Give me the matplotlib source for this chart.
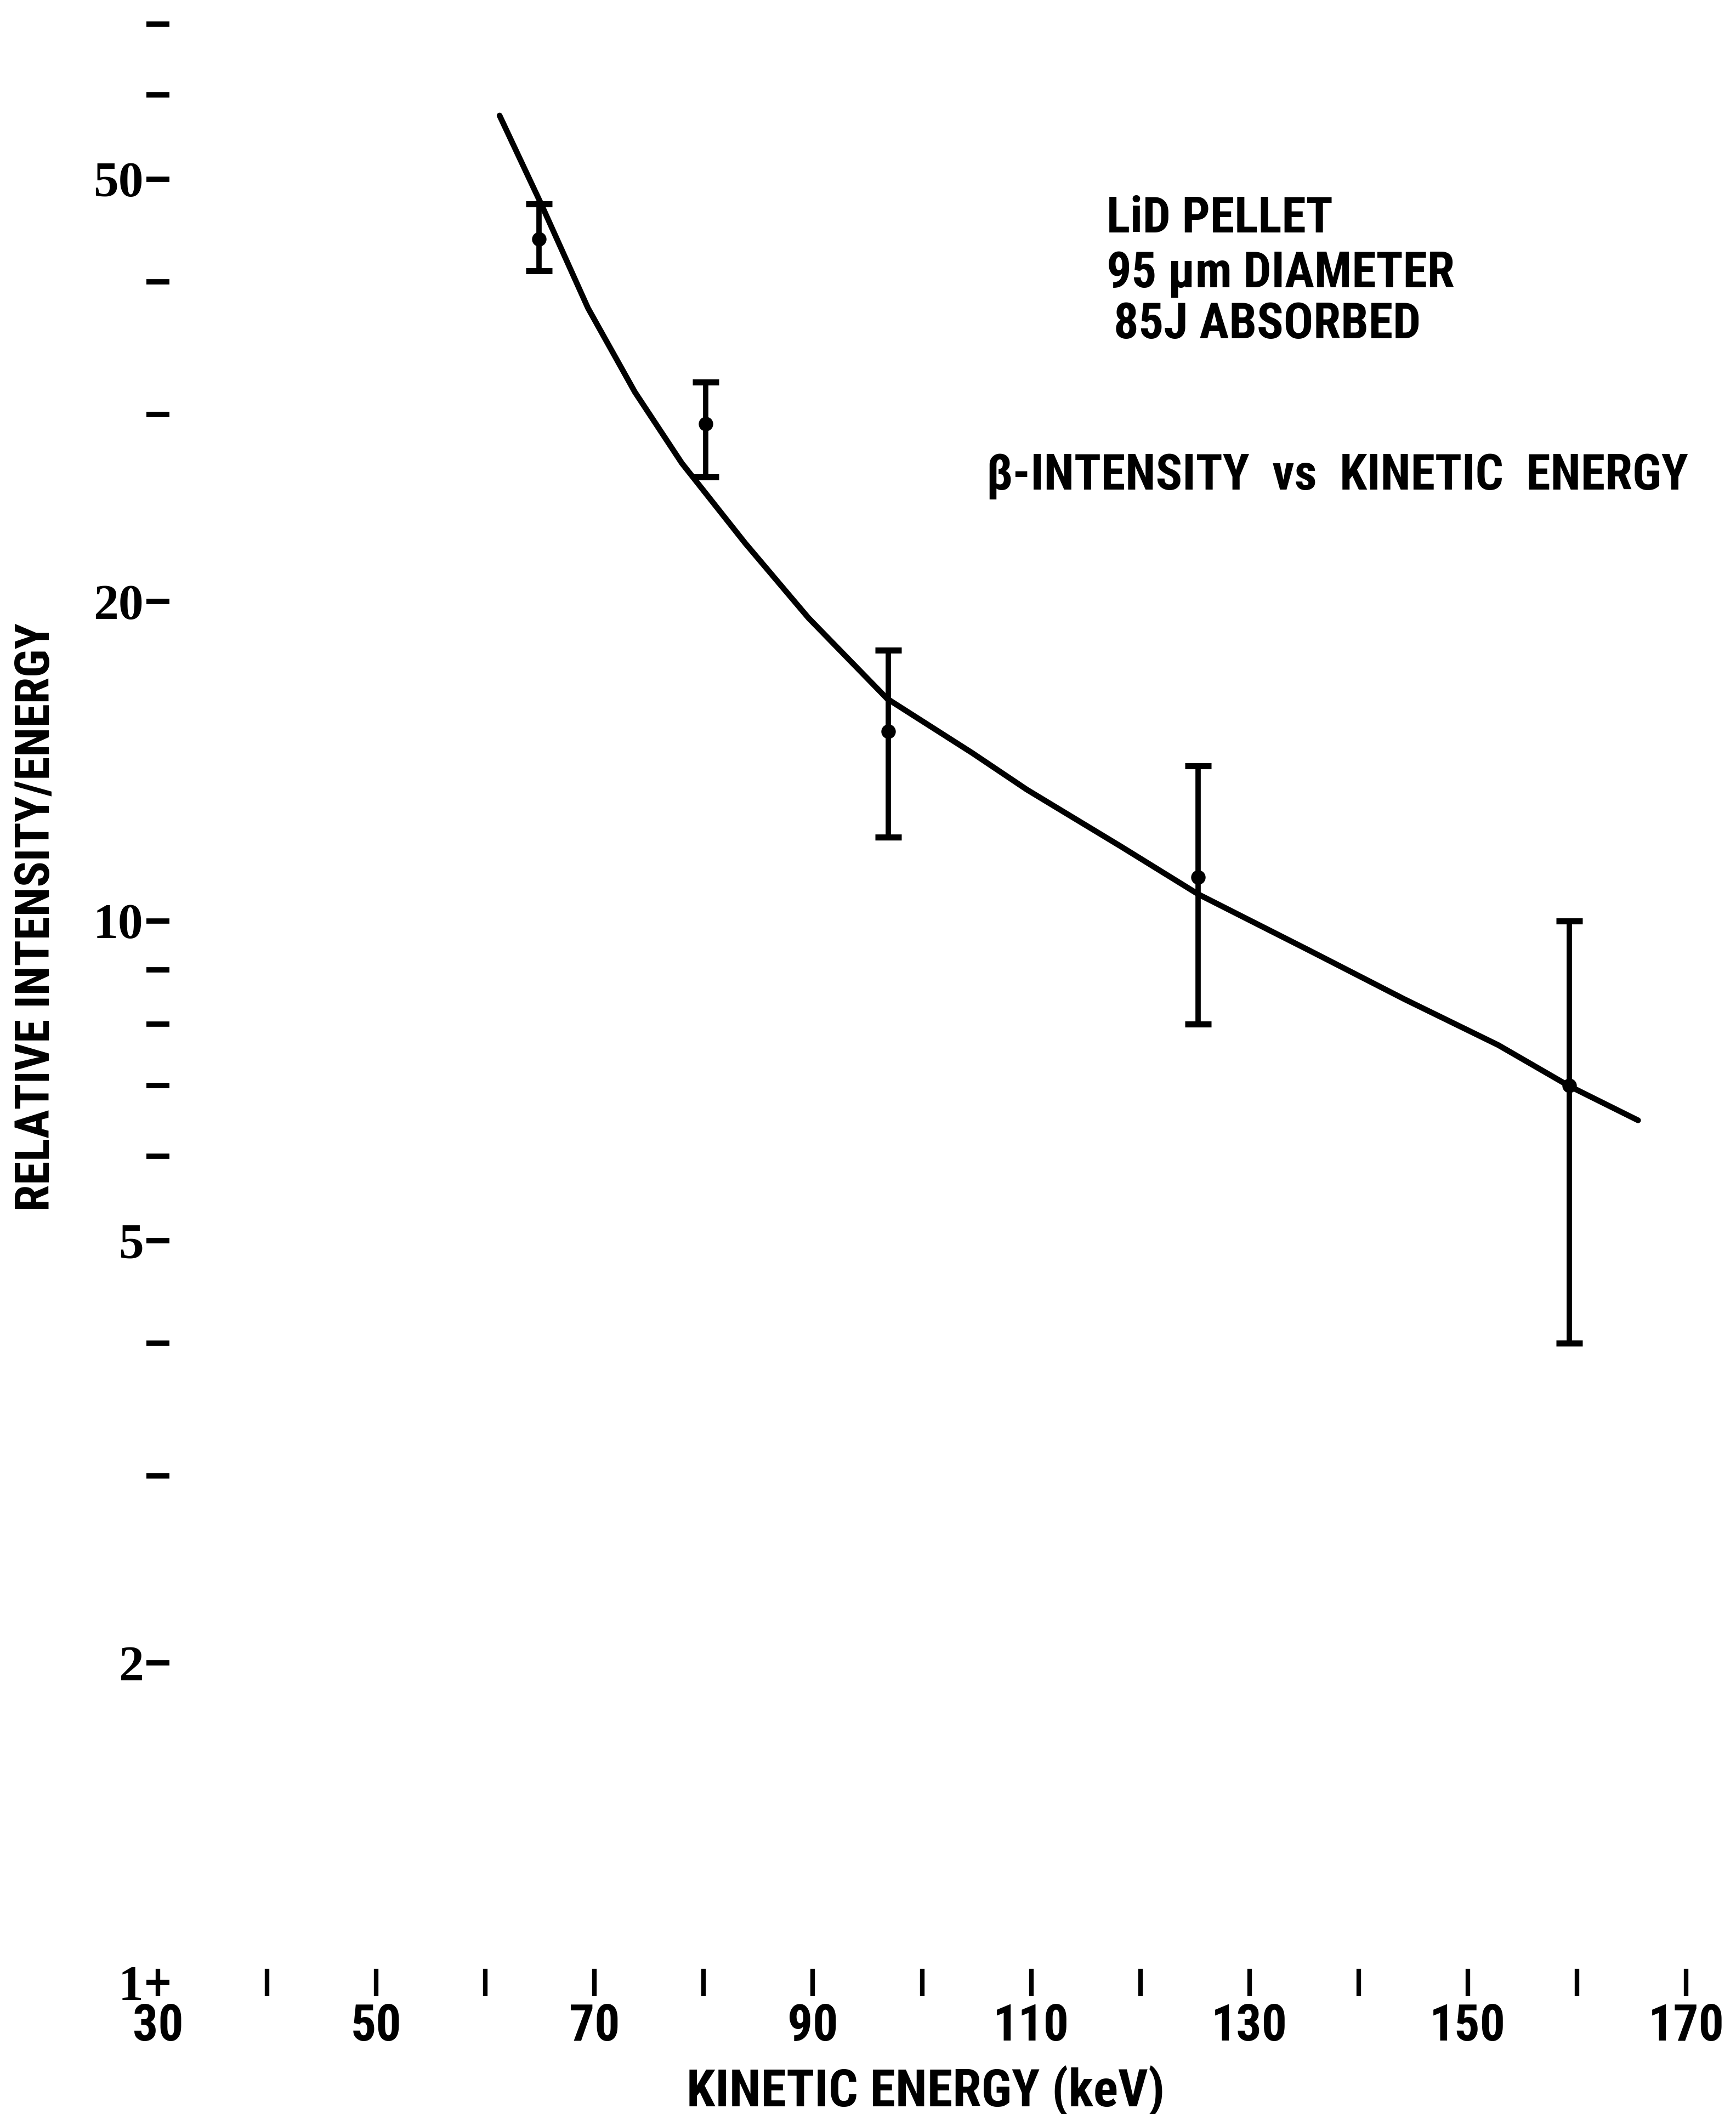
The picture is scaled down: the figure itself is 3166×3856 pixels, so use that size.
import matplotlib
matplotlib.use("Agg")
from matplotlib import pyplot as plt
from matplotlib import font_manager
from matplotlib.ticker import NullFormatter

# pick a narrow face if there is one, the scan uses a condensed typewriter font
names = {f.name for f in font_manager.fontManager.ttflist}
NARROW = next((n for n in ['Liberation Sans Narrow', 'DejaVu Sans Condensed', 'Roboto Condensed']
               if n in names), 'DejaVu Sans')
SERIF = 'Liberation Serif' if 'Liberation Serif' in names else 'DejaVu Serif'

# measured points with error bars (keV, relative intensity/energy)
energy = [64.9, 80.2, 96.9, 125.3, 159.3]
intensity = [43.9, 29.4, 15.1, 11.0, 7.0]
err_low = [41.0, 26.2, 12.0, 8.0, 4.0]
err_high = [47.4, 32.2, 18.0, 14.0, 10.0]

# fitted curve
curve_energy = [61.3, 65.1, 69.4, 73.7, 78.0, 83.8, 89.6, 96.8, 104.6, 109.6, 118.2, 125.3,
                135.5, 144.2, 152.8, 159.3, 165.6]
curve_intensity = [57.4, 47.4, 37.8, 31.5, 27.0, 22.7, 19.3, 16.2, 14.4, 13.3, 11.76, 10.6,
                   9.38, 8.44, 7.64, 6.99, 6.49]

x_major = [30, 50, 70, 90, 110, 130, 150, 170]
x_minor = [40, 60, 80, 100, 120, 140, 160]
y_major = [1, 2, 5, 10, 20, 50]
y_minor = [3, 4, 6, 7, 8, 9, 30, 40, 60, 70]

W, H = 3166, 3856
DPI = 100
fig = plt.figure(figsize=(W / DPI, H / DPI), dpi=DPI)

# axes placed so x=30 sits at px 288, x=170 at px 3075, y=1 at px 3616 from top
ax = fig.add_axes([288 / W, 1 - 3616 / H, (3075 - 288) / W, 3616 / H])
ax.set_yscale('log')
ax.set_xlim(30, 170)
ax.set_ylim(1, 10 ** (3616 / 1936))
for s in ax.spines.values():
    s.set_visible(False)
ax.patch.set_alpha(0)

ax.plot(curve_energy, curve_intensity, color='black', lw=7.5, solid_capstyle='round',
        solid_joinstyle='round', zorder=3)
ax.errorbar(energy, intensity,
            yerr=[[i - l for i, l in zip(intensity, err_low)], [h - i for i, h in zip(intensity, err_high)]],
            fmt='o', ms=18, color='black', elinewidth=7, capsize=17, capthick=8, zorder=4)

ax.set_xticks(x_major, [str(v) for v in x_major], fontsize=66, fontfamily=NARROW, fontweight='bold')
ax.set_xticks(x_minor, minor=True)
ax.tick_params(axis='x', which='both', direction='inout', length=36, width=6, pad=8)

ax.set_yticks(y_major, [str(v) for v in y_major], fontsize=66, fontfamily=SERIF, fontweight='bold')
ax.set_yticks(y_minor, minor=True)
ax.yaxis.set_minor_formatter(NullFormatter())
ax.tick_params(axis='y', which='both', direction='inout', length=30, width=7, pad=4)

TXT = dict(fontsize=65, fontfamily=NARROW, fontweight='bold', color='black')
fig.text(2018 / W, 1 - 424 / H, 'LiD PELLET', va='baseline', **TXT)
fig.text(2018 / W, 1 - 524 / H, '95 \u03bcm DIAMETER', va='baseline', **TXT)
fig.text(2031 / W, 1 - 617 / H, '85J ABSORBED', va='baseline', **TXT)
fig.text(1799 / W, 1 - 893 / H, '\u03b2-INTENSITY  vs  KINETIC  ENERGY', va='baseline', **TXT)

fig.text(1688 / W, 1 - 3842 / H, 'KINETIC ENERGY (keV)', ha='center', va='baseline',
         fontsize=68, fontfamily=NARROW, fontweight='bold')
fig.text(66 / W, 1 - 1673 / H, 'RELATIVE INTENSITY/ENERGY', ha='center', va='center',
         rotation=90, fontsize=63, fontfamily=NARROW, fontweight='bold')

plt.savefig('out.png', dpi=DPI, facecolor='white')
